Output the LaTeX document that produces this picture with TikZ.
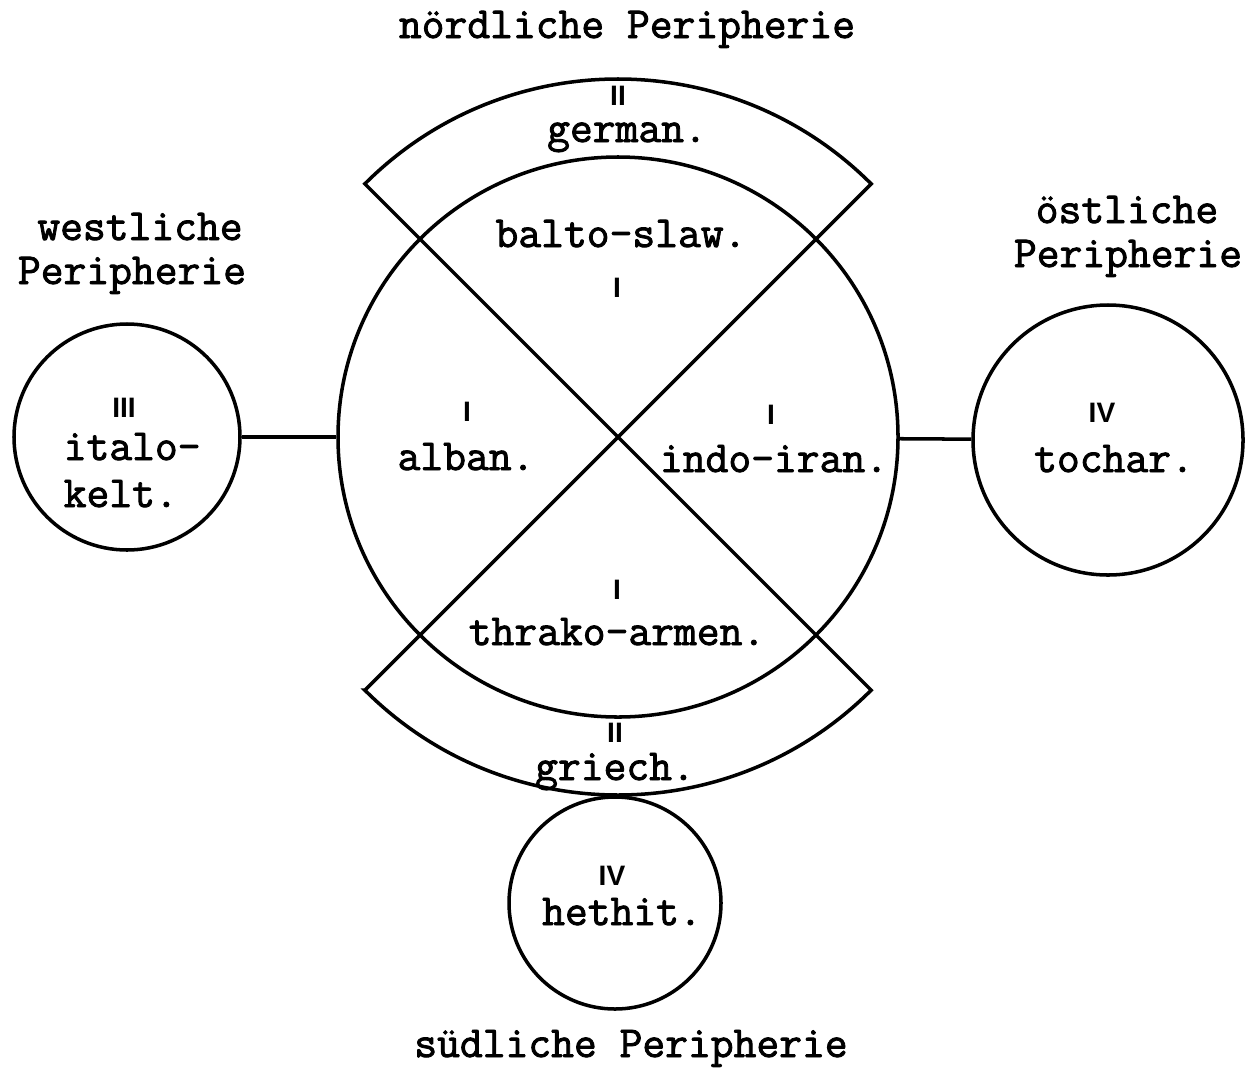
\documentclass[tikz,border=0pt]{standalone}
\usepackage{fontspec}
\newfontfamily\typefont[FakeBold=2]{Latin Modern Mono}
\newfontfamily\numfont{Liberation Sans}
\begin{document}
\begin{tikzpicture}[line width=1pt]

    \tikzset{ring/.style={draw,shape=circle,inner sep=0pt}}
    \tikzset{lang/.style={font=\typefont\fontsize{12.6}{14}\selectfont,anchor=base,inner sep=0pt}}
    \tikzset{grade/.style={font=\numfont\bfseries\fontsize{8}{9}\selectfont,inner sep=0pt}}
    \useasboundingbox (0,0) rectangle (12.45,-10.68);

    \node[ring,minimum size=5.6cm] (main) at (6.18,-4.37) {};
    \node[ring,minimum size=2.26cm] (italo) at (1.27,-4.37) {};
    \node[ring,minimum size=2.7cm] (tochar) at (11.08,-4.40) {};
    \node[ring,minimum size=2.12cm] (hethit) at (6.15,-9.03) {};

    % corners of the two bands
    \coordinate (bandne) at ([shift={(45:3.58)}]main.center);
    \coordinate (bandnw) at ([shift={(135:3.58)}]main.center);
    \coordinate (bandsw) at ([shift={(-135:3.58)}]main.center);
    \coordinate (bandse) at ([shift={(-45:3.58)}]main.center);

    \draw (bandsw) -- (bandne) arc[start angle=45,end angle=135,radius=3.58]
        -- (bandse) arc[start angle=-45,end angle=-135,radius=3.58] -- cycle;

    \draw (italo) -- (main);
    \draw (main) -- (tochar);

    \node[lang] (nord) at (6.27,-0.38) {nördliche Peripherie};
    \node[lang] (sued) at (6.31,-10.57) {südliche Peripherie};
    \node[lang] (west1) at (1.40,-2.40) {westliche};
    \node[lang] (west2) at (1.32,-2.84) {Peripherie};
    \node[lang] (ost1) at (11.27,-2.23) {östliche};
    \node[lang] (ost2) at (11.28,-2.67) {Peripherie};

    \node[grade] (n-german) at (6.18,-0.96) {II};
    \node[lang] (german) at (6.27,-1.42) {german.};
    \node[lang] (balto) at (6.21,-2.47) {balto-slaw.};
    \node[grade] (n-balto) at (6.17,-2.88) {I};
    \node[grade] (n-alban) at (4.67,-4.12) {I};
    \node[lang] (alban) at (4.66,-4.70) {alban.};
    \node[grade] (n-indo) at (7.71,-4.15) {I};
    \node[lang] (indo) at (7.74,-4.72) {indo-iran.};
    \node[grade] (n-thrako) at (6.17,-5.90) {I};
    \node[lang] (thrako) at (6.17,-6.45) {thrako-armen.};
    \node[grade] (n-griech) at (6.15,-7.33) {II};
    \node[lang] (griech) at (6.15,-7.80) {griech.};

    \node[grade] (n-italo) at (1.24,-4.08) {III};
    \node[lang,anchor=base west] (italo1) at (0.62,-4.60) {italo-};
    \node[lang,anchor=base west] (italo2) at (0.62,-5.07) {kelt.};
    \node[grade] (n-tochar) at (11.02,-4.13) {IV};
    \node[lang] (tocharl) at (11.14,-4.72) {tochar.};
    \node[grade] (n-hethit) at (6.12,-8.76) {IV};
    \node[lang] (hethitl) at (6.22,-9.25) {hethit.};
\end{tikzpicture}
\end{document}
